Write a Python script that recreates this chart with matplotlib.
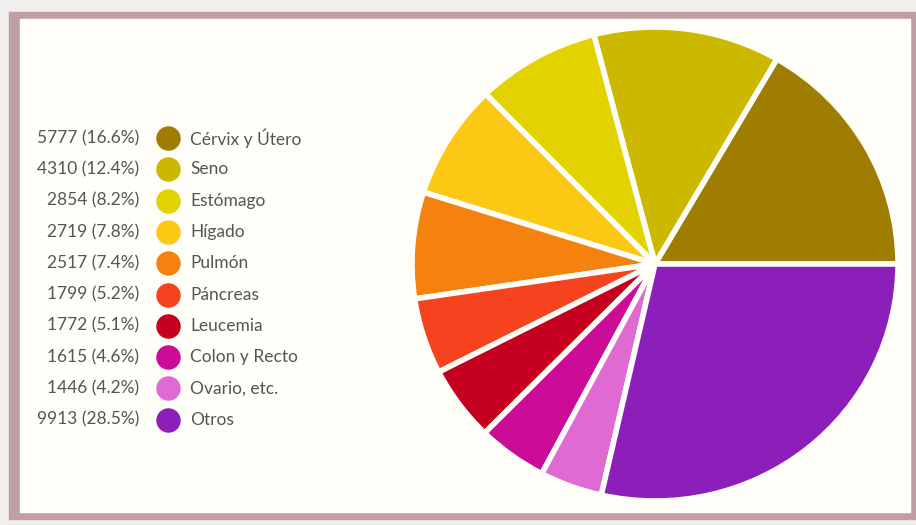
import matplotlib.pyplot as plt
from matplotlib.patches import Rectangle

labels = ["Cérvix y Útero", "Seno", "Estómago", "Hígado", "Pulmón", "Páncreas",
          "Leucemia", "Colon y Recto", "Ovario, etc.", "Otros"]
counts = [5777, 4310, 2854, 2719, 2517, 1799, 1772, 1615, 1446, 9913]
pcts = ["16.6%", "12.4%", "8.2%", "7.8%", "7.4%", "5.2%", "5.1%", "4.6%", "4.2%", "28.5%"]
colors = ["#9e7d00", "#cdb800", "#e2d200", "#fcc814", "#f5820f", "#f5431f",
          "#c4001e", "#cc0c96", "#de6ad2", "#8c1eb9"]

W, H = 916, 525
fig = plt.figure(figsize=(W / 100, H / 100), dpi=100)
plt.rcParams['font.family'] = ['Lato', 'DejaVu Sans']

# background frame + legend layer in pixel coords
bg = fig.add_axes([0, 0, 1, 1])
bg.set_xlim(0, W)
bg.set_ylim(H, 0)
bg.axis('off')
bg.add_patch(Rectangle((0, 0), W, H, color='#f1eeee', zorder=0))
bg.add_patch(Rectangle((9, 12), W - 9, 507, color='#bf9fa3', zorder=1))
bg.add_patch(Rectangle((20, 19), 890, 493, color='#fffef8', zorder=2))

y0, dy = 138, 31.3
for i, (c, p, lab, col) in enumerate(zip(counts, pcts, labels, colors)):
    y = y0 + i * dy
    bg.text(139, y, f"{c} ({p})", ha='right', va='center', fontsize=12.5,
            color='#555555', zorder=3)
    bg.scatter([168], [y], s=310, color=col, zorder=3, linewidths=0)
    bg.text(190, y, lab, ha='left', va='center', fontsize=12.5,
            color='#555555', zorder=3)

# pie (source image is slightly stretched horizontally)
rx, ry, cx, cy = 243, 237, 655, 264
ax = fig.add_axes([(cx - rx) / W, (H - cy - ry) / H, 2 * rx / W, 2 * ry / H])
ax.pie(counts, colors=colors, startangle=0, counterclock=True,
       wedgeprops=dict(edgecolor='#fffef8', linewidth=4))
ax.set_xlim(-1, 1)
ax.set_ylim(-1, 1)
ax.set_aspect('auto')
ax.axis('off')

fig.savefig('out.png', dpi=100)
